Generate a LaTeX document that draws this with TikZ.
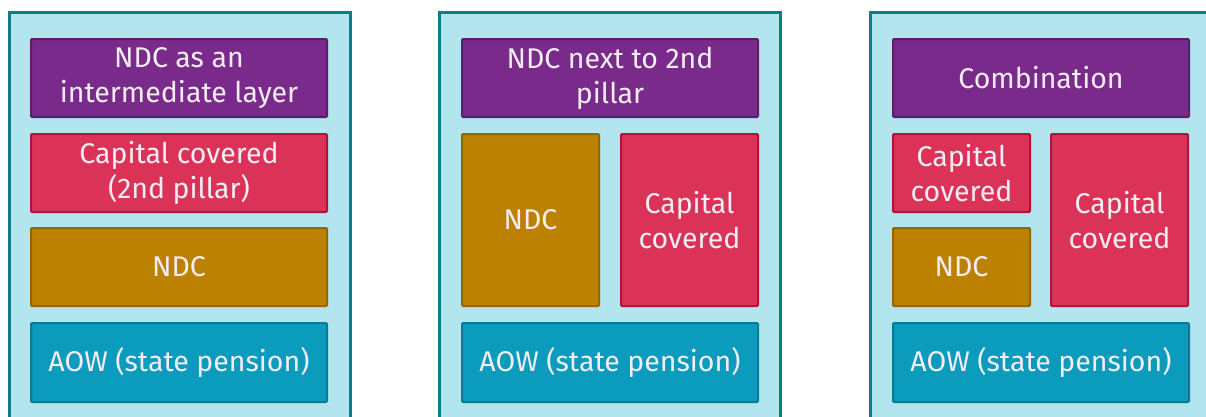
\documentclass[tikz,border=0pt]{standalone}
\usepackage{fontspec}
\setmainfont{Fira Sans}
\definecolor{panelfill}{HTML}{B3E5EE}
\definecolor{paneldraw}{HTML}{0B7D8C}
\definecolor{purplef}{HTML}{7A2A8A}
\definecolor{purpled}{HTML}{5C1E6A}
\definecolor{redf}{HTML}{DB3358}
\definecolor{redd}{HTML}{AE153A}
\definecolor{goldf}{HTML}{BD8100}
\definecolor{goldd}{HTML}{946500}
\definecolor{bluef}{HTML}{0B9BBC}
\definecolor{blued}{HTML}{087C97}
\definecolor{txt}{HTML}{F4EDF4}
\tikzset{
  panel/.style={draw=paneldraw, line width=3pt, fill=panelfill},
  blk/.style={line width=2pt, text=txt, align=center, inner sep=0pt,
    font=\fontsize{28.5}{35}\selectfont, rounded corners=1pt},
  purpleblk/.style={blk, fill=purplef, draw=purpled},
  redblk/.style={blk, fill=redf, draw=redd},
  goldblk/.style={blk, fill=goldf, draw=goldd},
  blueblk/.style={blk, fill=bluef, draw=blued},
  wide/.style={minimum width=296pt, minimum height=78pt},
  narrow/.style={minimum width=137pt, minimum height=78pt},
  tall/.style={minimum width=137pt, minimum height=172pt},
}
\begin{document}
\begin{tikzpicture}[x=1pt,y=-1pt]
\clip (0,0) rectangle (1206,416);
\fill[white] (0,0) rectangle (1206,416);
% panels
\draw[panel] (9.5,12.5) rectangle (350,440);
\draw[panel] (439.5,12.5) rectangle (780,440);
\draw[panel] (870.5,12.5) rectangle (1220,440);
% panel 1
\node[purpleblk, wide] (p1a) at (179,78) {NDC as an\\intermediate layer};
\node[redblk, wide] (p1b) at (179,173) {Capital covered\\(2nd pillar)};
\node[goldblk, wide] (p1c) at (179,267) {NDC};
\node[blueblk, wide, minimum height=79pt] (p1d) at (179,362.5) {AOW (state pension)};
% panel 2
\node[purpleblk, wide] (p2a) at (610,78) {NDC next to 2nd\\pillar};
\node[goldblk, tall] (p2b) at (530.5,220) {NDC};
\node[redblk, tall] (p2c) at (689.5,220) {Capital\\covered};
\node[blueblk, wide, minimum height=79pt] (p2d) at (610,362.5) {AOW (state pension)};
% panel 3
\node[purpleblk, wide] (p3a) at (1041,78) {Combination};
\node[redblk, narrow] (p3b) at (961.5,173) {Capital\\covered};
\node[goldblk, narrow] (p3c) at (961.5,267) {NDC};
\node[redblk, tall] (p3d) at (1119.5,220) {Capital\\covered};
\node[blueblk, wide, minimum height=79pt] (p3e) at (1041,362.5) {AOW (state pension)};
\end{tikzpicture}
\end{document}
